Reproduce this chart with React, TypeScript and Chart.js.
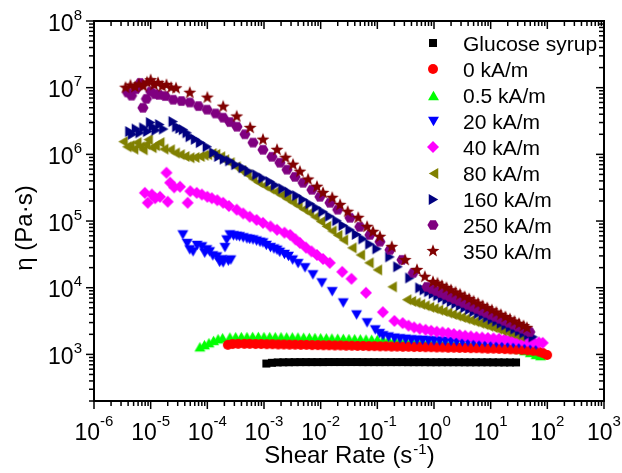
import React, { useEffect, useRef } from 'react';
import { Chart, registerables } from 'chart.js';

Chart.register(...registerables);

type Pt = [number, number];

// Shear rate (1/s) vs. viscosity (Pa·s)
const glucoseSyrup: Pt[] = [
  [1.1e-3, 730], [1.38e-3, 748], [1.74e-3, 758], [2.19e-3, 762], [2.75e-3, 764], [3.47e-3, 765],
  [4.37e-3, 766], [5.5e-3, 766], [6.92e-3, 767], [8.71e-3, 767], [1.1e-2, 767], [1.38e-2, 768],
  [1.74e-2, 768], [2.19e-2, 768], [2.75e-2, 768], [3.47e-2, 768], [4.37e-2, 768], [5.5e-2, 767],
  [6.92e-2, 767], [8.71e-2, 767], [0.11, 767], [0.138, 766], [0.174, 766], [0.219, 766],
  [0.275, 766], [0.347, 765], [0.437, 765], [0.55, 765], [0.692, 765], [0.871, 764], [1.1, 764],
  [1.38, 764], [1.74, 763], [2.19, 763], [2.75, 763], [3.47, 762], [4.37, 762], [5.5, 762],
  [6.92, 761], [8.71, 761], [11, 760], [13.8, 760], [17.4, 759], [21.9, 759], [28, 758],
];

const field0: Pt[] = [
  [2.3e-4, 1390], [2.8e-4, 1430], [3.5e-4, 1440], [4.5e-4, 1440], [5.6e-4, 1440], [7.1e-4, 1430],
  [8.9e-4, 1430], [1.12e-3, 1420], [1.41e-3, 1420], [1.78e-3, 1410], [2.24e-3, 1410], [2.82e-3, 1400],
  [3.55e-3, 1400], [4.47e-3, 1390], [5.62e-3, 1390], [7.08e-3, 1380], [8.91e-3, 1380], [1.12e-2, 1370],
  [1.41e-2, 1370], [1.78e-2, 1360], [2.24e-2, 1360], [2.82e-2, 1350], [3.55e-2, 1350], [4.47e-2, 1340],
  [5.62e-2, 1340], [7.08e-2, 1330], [8.91e-2, 1330], [0.112, 1320], [0.141, 1320], [0.178, 1310],
  [0.224, 1310], [0.282, 1300], [0.355, 1300], [0.447, 1290], [0.562, 1290], [0.708, 1280],
  [0.891, 1280], [1.12, 1270], [1.41, 1270], [1.78, 1260], [2.24, 1260], [2.82, 1250], [3.55, 1250],
  [4.47, 1240], [5.62, 1240], [7.08, 1230], [8.91, 1220], [11.2, 1220], [14.1, 1210], [17.8, 1200],
  [22.4, 1190], [28.2, 1180], [35.5, 1170], [44.7, 1150], [56.2, 1130], [70.8, 1100], [83, 1050],
  [99, 980],
];

const field05: Pt[] = [
  [7.4e-5, 1300], [8.9e-5, 1400], [1.07e-4, 1500], [1.29e-4, 1620], [1.55e-4, 1720], [1.86e-4, 1780],
  [2.5e-4, 1820], [3.16e-4, 1840], [3.98e-4, 1850], [5.01e-4, 1850], [6.31e-4, 1860], [7.94e-4, 1860],
  [1e-3, 1850], [1.26e-3, 1850], [1.58e-3, 1840], [2e-3, 1840], [2.51e-3, 1830], [3.16e-3, 1830],
  [3.98e-3, 1820], [5.01e-3, 1810], [6.31e-3, 1800], [7.94e-3, 1790], [1e-2, 1780], [1.26e-2, 1770],
  [1.58e-2, 1760], [2e-2, 1750], [2.51e-2, 1740], [3.16e-2, 1730], [3.98e-2, 1720], [5.01e-2, 1710],
  [6.31e-2, 1700], [7.94e-2, 1690], [0.1, 1680], [0.126, 1670], [0.158, 1660], [0.2, 1650],
  [0.251, 1640], [0.316, 1630], [0.398, 1620], [0.501, 1600], [0.631, 1590], [0.794, 1580],
  [1, 1560], [1.26, 1550], [1.58, 1530], [2, 1520], [2.51, 1500], [3.16, 1480], [3.98, 1460],
  [5.01, 1440], [6.31, 1420], [7.94, 1400], [10, 1380], [12.6, 1350], [15.8, 1320], [20, 1290],
  [25.1, 1250], [31.6, 1200], [39.8, 1140], [50.1, 1070], [63.1, 1000], [76, 960],
];

const field20: Pt[] = [
  [3.7e-5, 6.2e4], [4.4e-5, 4.6e4], [4.9e-5, 3.7e4], [5.6e-5, 3.45e4], [6.6e-5, 4.3e4], [8.0e-5, 4.1e4],
  [9.0e-5, 3.3e4], [9.8e-5, 3.7e4], [1.1e-4, 3.45e4], [1.25e-4, 3.0e4], [1.47e-4, 2.9e4], [1.65e-4, 2.4e4],
  [1.8e-4, 2.62e4], [1.9e-4, 2.36e4], [2.05e-4, 4.0e4], [2.2e-4, 5.2e4], [2.35e-4, 2.5e4], [2.5e-4, 6.2e4],
  [2.6e-4, 2.6e4], [2.9e-4, 6.0e4], [3.3e-4, 5.9e4], [3.7e-4, 5.8e4], [4.3e-4, 5.6e4], [5.0e-4, 5.4e4],
  [5.6e-4, 5.3e4], [6.4e-4, 5.2e4], [7.4e-4, 5.0e4], [8.5e-4, 4.8e4], [9.6e-4, 4.7e4], [1.1e-3, 4.3e4],
  [1.3e-3, 4.0e4], [1.5e-3, 3.8e4], [1.7e-3, 3.65e4], [1.9e-3, 3.4e4], [2.3e-3, 3.15e4], [2.7e-3, 2.95e4],
  [3.2e-3, 2.6e4], [4.0e-3, 2.3e4], [5.3e-3, 1.99e4], [7.3e-3, 1.56e4], [1.05e-2, 1.18e4], [1.6e-2, 8.7e3],
  [2.5e-2, 5.9e3], [4.3e-2, 3.9e3], [6.6e-2, 2.97e3], [9.2e-2, 2.33e3], [0.11, 2.05e3], [0.126, 1.9e3],
  [0.158, 1.82e3], [0.2, 1.75e3], [0.251, 1.71e3], [0.316, 1.68e3], [0.398, 1.65e3], [0.501, 1.63e3],
  [0.631, 1.62e3], [0.794, 1.6e3], [1, 1.59e3], [1.26, 1.58e3], [1.58, 1.57e3], [2, 1.56e3],
  [2.51, 1.55e3], [3.16, 1.54e3], [3.98, 1.53e3], [5.01, 1.52e3], [6.31, 1.51e3], [7.94, 1.5e3],
  [10, 1.49e3], [12.6, 1.48e3], [15.8, 1.47e3], [20, 1.46e3], [25.1, 1.45e3], [31.6, 1.44e3],
  [39.8, 1.42e3], [50.1, 1.4e3], [63.1, 1.37e3],
];

const field40: Pt[] = [
  [7.9e-6, 2.65e5], [8.9e-6, 1.88e5], [1.05e-5, 2.5e5], [1.2e-5, 2.2e5], [1.46e-5, 2.31e5], [1.9e-5, 5.3e5],
  [2.0e-5, 1.95e5], [2.2e-5, 3.76e5], [2.6e-5, 3.2e5], [3.3e-5, 3.27e5], [4.5e-5, 1.88e5], [5.0e-5, 2.8e5],
  [6.5e-5, 2.65e5], [8.0e-5, 2.5e5], [1.0e-4, 2.31e5], [1.2e-4, 2.2e5], [1.5e-4, 2.05e5], [1.9e-4, 1.88e5],
  [2.4e-4, 1.68e5], [3.3e-4, 1.48e5], [4.3e-4, 1.3e5], [5.6e-4, 1.16e5], [7.4e-4, 1.04e5], [9.6e-4, 9.4e4],
  [1.3e-3, 8.3e4], [1.7e-3, 7.4e4], [2.3e-3, 6.7e4], [2.9e-3, 6.2e4], [3.6e-3, 5.3e4], [4.3e-3, 4.7e4],
  [5.5e-3, 4.0e4], [6.9e-3, 3.5e4], [8.6e-3, 3.1e4], [1.1e-2, 2.7e4], [1.45e-2, 2.36e4], [2.4e-2, 1.73e4],
  [3.5e-2, 1.36e4], [6.3e-2, 8.4e3], [0.125, 4.3e3], [0.2, 3.18e3], [0.28, 2.95e3], [0.355, 2.7e3],
  [0.447, 2.54e3], [0.56, 2.43e3], [0.71, 2.34e3], [0.89, 2.26e3], [1.12, 2.19e3], [1.41, 2.14e3],
  [1.78, 2.09e3], [2.24, 2.02e3], [2.82, 1.95e3], [3.55, 1.9e3], [4.47, 1.86e3], [5.62, 1.82e3],
  [7.08, 1.79e3], [8.91, 1.76e3], [11.2, 1.74e3], [14.1, 1.72e3], [17.8, 1.7e3], [22.4, 1.68e3],
  [28.2, 1.66e3], [35.5, 1.62e3], [44.7, 1.58e3], [56.2, 1.55e3], [70.8, 1.51e3], [83, 1.49e3],
];

const field80: Pt[] = [
  [3.25e-6, 1.55e6], [3.8e-6, 1.3e6], [4.3e-6, 1.35e6], [5.0e-6, 1.2e6], [5.7e-6, 1.5e6], [6.5e-6, 1.3e6],
  [7.3e-6, 1.17e6], [8.2e-6, 1.4e6], [9.0e-6, 1.66e6], [1.05e-5, 1.26e6], [1.2e-5, 1.35e6], [1.45e-5, 1.5e6],
  [1.7e-5, 1.2e6], [2.2e-5, 1.17e6], [2.7e-5, 1.05e6], [3.3e-5, 9.9e5], [4.0e-5, 9.3e5], [4.9e-5, 8.9e5],
  [6.0e-5, 9.0e5], [7.4e-5, 9.3e5], [8.7e-5, 9.7e5], [1.0e-4, 9.9e5], [1.2e-4, 1.03e6], [1.4e-4, 1.0e6],
  [1.7e-4, 9.2e5], [2.0e-4, 8.3e5], [2.5e-4, 7.5e5], [3.2e-4, 6.5e5], [4.0e-4, 5.7e5], [5.0e-4, 5.0e5],
  [6.3e-4, 4.3e5], [7.9e-4, 3.8e5], [1e-3, 3.4e5], [1.26e-3, 3.05e5], [1.58e-3, 2.75e5], [2e-3, 2.45e5],
  [2.51e-3, 2.16e5], [3.16e-3, 1.92e5], [3.98e-3, 1.7e5], [5.01e-3, 1.5e5], [6.31e-3, 1.33e5],
  [7.94e-3, 1.15e5], [1e-2, 9.8e4], [1.26e-2, 8.3e4], [1.58e-2, 7.1e4], [2e-2, 6.1e4], [2.51e-2, 5.2e4],
  [3.55e-2, 3.96e4], [5.0e-2, 3.1e4], [7.1e-2, 2.36e4], [0.1, 1.85e4], [0.182, 1.03e4], [0.33, 6.6e3],
  [0.398, 6.25e3], [0.479, 5.94e3], [0.575, 5.65e3], [0.692, 5.37e3], [0.832, 5.1e3], [1.0, 4.86e3],
  [1.2, 4.62e3], [1.445, 4.4e3], [1.74, 4.18e3], [2.09, 3.97e3], [2.51, 3.78e3], [3.02, 3.59e3],
  [3.63, 3.41e3], [4.37, 3.25e3], [5.25, 3.09e3], [6.31, 2.94e3], [7.59, 2.79e3], [9.12, 2.65e3],
  [11, 2.52e3], [13.2, 2.4e3], [15.8, 2.28e3], [19.1, 2.17e3], [22.9, 2.07e3], [27.5, 1.96e3],
  [33.1, 1.87e3],
];

const field160: Pt[] = [
  [4.3e-6, 2.2e6], [4.8e-6, 2.0e6], [5.6e-6, 2.4e6], [6.5e-6, 2.1e6], [7.6e-6, 2.5e6], [8.9e-6, 2.2e6],
  [1.0e-5, 3.0e6], [1.1e-5, 2.6e6], [1.25e-5, 2.3e6], [1.45e-5, 2.8e6], [1.7e-5, 2.4e6], [2.5e-5, 3.1e6],
  [2.9e-5, 2.6e6], [3.3e-5, 2.45e6], [3.8e-5, 2.34e6], [4.4e-5, 2.1e6], [5.0e-5, 1.84e6], [6.2e-5, 1.68e6],
  [7.6e-5, 1.5e6], [1.0e-4, 1.3e6], [1.3e-4, 1.06e6], [1.6e-4, 9.3e5], [2.0e-4, 8.5e5], [2.5e-4, 8.0e5],
  [3.2e-4, 7.0e5], [4.3e-4, 6.3e5], [5.4e-4, 5.6e5], [7.5e-4, 4.95e5], [9.6e-4, 4.4e5], [1.28e-3, 3.9e5],
  [1.6e-3, 3.45e5], [2.16e-3, 3.05e5], [2.8e-3, 2.7e5], [3.8e-3, 2.4e5], [4.9e-3, 2.1e5], [6.5e-3, 1.82e5],
  [8.5e-3, 1.58e5], [1.1e-2, 1.38e5], [1.45e-2, 1.18e5], [1.94e-2, 1.01e5], [2.5e-2, 8.6e4], [3.3e-2, 7.4e4],
  [4.3e-2, 6.3e4], [5.6e-2, 5.4e4], [7.4e-2, 4.5e4], [9.9e-2, 3.83e4], [0.167, 2.9e4], [0.231, 2.06e4],
  [0.377, 1.4e4], [0.566, 9.95e3], [0.676, 9.3e3], [0.813, 8.7e3], [0.977, 8.14e3], [1.175, 7.6e3],
  [1.413, 7.1e3], [1.7, 6.64e3], [2.04, 6.2e3], [2.45, 5.8e3], [2.95, 5.42e3], [3.55, 5.06e3],
  [4.27, 4.73e3], [5.13, 4.42e3], [6.17, 4.13e3], [7.41, 3.86e3], [8.91, 3.6e3], [10.7, 3.37e3],
  [12.9, 3.15e3], [15.5, 2.94e3], [18.6, 2.75e3], [22.4, 2.57e3], [26.9, 2.4e3], [32.4, 2.24e3],
  [38.9, 2.09e3], [46.8, 1.96e3], [56.2, 1.83e3],
];

const field250: Pt[] = [
  [3.9e-6, 8.5e6], [4.6e-6, 7.6e6], [5.5e-6, 9.5e6], [6.5e-6, 1.18e7], [7.3e-6, 5.0e6], [8.4e-6, 6.8e6],
  [1.0e-5, 8.8e6], [1.2e-5, 8.0e6], [1.4e-5, 7.8e6], [1.8e-5, 7.5e6], [2.5e-5, 6.6e6], [3.5e-5, 6.3e6],
  [4.9e-5, 6.0e6], [7.0e-5, 5.3e6], [9.9e-5, 4.68e6], [1.4e-4, 4.1e6], [1.9e-4, 3.55e6], [2.5e-4, 3.05e6],
  [3.33e-4, 2.6e6], [4.6e-4, 2.0e6], [6.4e-4, 1.5e6], [9.6e-4, 1.17e6], [1.38e-3, 9.2e5], [1.91e-3, 7.5e5],
  [2.55e-3, 5.9e5], [3.52e-3, 4.6e5], [4.9e-3, 3.75e5], [7.0e-3, 2.94e5], [9.7e-3, 2.31e5], [1.46e-2, 1.88e5],
  [2.0e-2, 1.48e5], [3.3e-2, 1.12e5], [4.9e-2, 8.2e4], [7.4e-2, 6.2e4], [0.111, 4.9e4], [0.167, 3.7e4],
  [0.272, 2.62e4], [0.43, 1.67e4], [0.75, 1.03e4], [0.912, 9.6e3], [1.096, 8.95e3], [1.318, 8.36e3],
  [1.585, 7.8e3], [1.905, 7.3e3], [2.29, 6.8e3], [2.75, 6.36e3], [3.31, 5.93e3], [3.98, 5.54e3],
  [4.79, 5.17e3], [5.75, 4.83e3], [6.92, 4.51e3], [8.32, 4.21e3], [10, 3.93e3], [12, 3.67e3],
  [14.5, 3.43e3], [17.4, 3.2e3], [20.9, 2.99e3], [25.1, 2.79e3], [30.2, 2.6e3], [36.3, 2.43e3],
  [43.7, 2.27e3], [49, 2.17e3],
];

const field350: Pt[] = [
  [3.6e-6, 1.0e7], [4.4e-6, 1.08e7], [5.3e-6, 1.02e7], [6.2e-6, 1.12e7], [7.4e-6, 1.05e7], [8.6e-6, 1.2e7],
  [1.0e-5, 1.3e7], [1.15e-5, 1.1e7], [1.35e-5, 1.18e7], [1.6e-5, 1.05e7], [1.9e-5, 1.1e7], [2.3e-5, 1.0e7],
  [2.8e-5, 9.8e6], [4.9e-5, 8.4e6], [1.0e-4, 7.1e6], [1.9e-4, 5.2e6], [3.3e-4, 3.7e6], [5.7e-4, 2.5e6],
  [9.6e-4, 1.66e6], [1.7e-3, 1.17e6], [2.4e-3, 8.9e5], [3.25e-3, 7.0e5], [4.3e-3, 5.5e5], [6.0e-3, 4.2e5],
  [8.6e-3, 3.27e5], [1.1e-2, 2.65e5], [1.6e-2, 2.23e5], [2.2e-2, 1.75e5], [3.0e-2, 1.38e5], [4.6e-2, 1.12e5],
  [6.6e-2, 8.2e4], [8.4e-2, 6.9e4], [0.111, 5.8e4], [0.18, 4.1e4], [0.31, 2.6e4], [0.5, 1.85e4],
  [0.69, 1.46e4], [0.96, 1.22e4], [1.15, 1.16e4], [1.38, 1.07e4], [1.66, 9.95e3], [2.0, 9.2e3],
  [2.4, 8.5e3], [2.88, 7.9e3], [3.47, 7.3e3], [4.17, 6.76e3], [5.0, 6.25e3], [6.0, 5.8e3],
  [7.2, 5.35e3], [8.7, 4.96e3], [10.5, 4.6e3], [12.6, 4.25e3], [15.1, 3.93e3], [18.2, 3.64e3],
  [21.9, 3.37e3], [26.3, 3.12e3], [31.6, 2.88e3], [38, 2.67e3], [43.6, 2.5e3],
];

const seriesLabels = [
  'Glucose syrup', '0 kA/m', '0.5 kA/m', '20 kA/m', '40 kA/m',
  '80 kA/m', '160 kA/m', '250 kA/m', '350 kA/m',
];
const seriesData: Pt[][] = [
  glucoseSyrup, field0, field05, field20, field40, field80, field160, field250, field350,
];

const xTickExponents = ['-6', '-5', '-4', '-3', '-2', '-1', '0', '1', '2', '3'];
const yTickExponents = ['3', '4', '5', '6', '7', '8'];
const xTitleParts = ['Shear Rate (s', '-1', ')'];
const yTitle = 'η (Pa·s)';

type Shape = 'square' | 'circle' | 'triUp' | 'triDown' | 'diamond' | 'triLeft' | 'triRight' | 'hexagon' | 'star';

const seriesStyle: { color: string; shape: Shape; size: number; layer: number }[] = [
  { color: '#000000', shape: 'square', size: 4, layer: 9 },
  { color: '#FF0000', shape: 'circle', size: 5, layer: 7 },
  { color: '#00FF00', shape: 'triUp', size: 6.3, layer: 8 },
  { color: '#0000FF', shape: 'triDown', size: 6.3, layer: 6 },
  { color: '#FF00FF', shape: 'diamond', size: 6, layer: 5 },
  { color: '#808000', shape: 'triLeft', size: 6.3, layer: 4 },
  { color: '#000080', shape: 'triRight', size: 6.3, layer: 3 },
  { color: '#800080', shape: 'hexagon', size: 5.6, layer: 2 },
  { color: '#800000', shape: 'star', size: 6.8, layer: 1 },
];

const FONT = '"Liberation Sans", Arial, Helvetica, sans-serif';

function polygon(ctx: CanvasRenderingContext2D, cx: number, cy: number, r: number, n: number, startDeg: number) {
  for (let i = 0; i < n; i++) {
    const a = ((startDeg + (360 / n) * i) * Math.PI) / 180;
    const px = cx + r * Math.cos(a);
    const py = cy + r * Math.sin(a);
    if (i === 0) ctx.moveTo(px, py);
    else ctx.lineTo(px, py);
  }
  ctx.closePath();
}

function makeMarker(shape: Shape, color: string, r: number): HTMLCanvasElement {
  const c = document.createElement('canvas');
  const side = Math.ceil(r * 2) + 2;
  c.width = side;
  c.height = side;
  const ctx = c.getContext('2d')!;
  const cx = side / 2;
  const cy = side / 2;
  ctx.fillStyle = color;
  ctx.beginPath();
  switch (shape) {
    case 'square':
      ctx.rect(cx - r, cy - r, 2 * r, 2 * r);
      break;
    case 'circle':
      ctx.arc(cx, cy, r, 0, Math.PI * 2);
      break;
    case 'triUp':
      polygon(ctx, cx, cy + r * 0.25, r, 3, -90);
      break;
    case 'triDown':
      polygon(ctx, cx, cy - r * 0.25, r, 3, 90);
      break;
    case 'triLeft':
      polygon(ctx, cx + r * 0.25, cy, r, 3, 180);
      break;
    case 'triRight':
      polygon(ctx, cx - r * 0.25, cy, r, 3, 0);
      break;
    case 'diamond':
      polygon(ctx, cx, cy, r, 4, -90);
      break;
    case 'hexagon':
      polygon(ctx, cx, cy, r, 6, 0);
      break;
    case 'star': {
      for (let i = 0; i < 10; i++) {
        const rad = i % 2 === 0 ? r : r * 0.42;
        const a = ((-90 + 36 * i) * Math.PI) / 180;
        const px = cx + rad * Math.cos(a);
        const py = cy + rad * Math.sin(a);
        if (i === 0) ctx.moveTo(px, py);
        else ctx.lineTo(px, py);
      }
      ctx.closePath();
      break;
    }
  }
  ctx.fill();
  return c;
}

export default function App() {
  const canvasRef = useRef<HTMLCanvasElement | null>(null);

  useEffect(() => {
    const canvas = canvasRef.current;
    if (!canvas) return;

    const markers = seriesStyle.map((s) => makeMarker(s.shape, s.color, s.size));

    const axesPlugin = {
      id: 'originAxes',
      afterDraw(chart: any) {
        const { ctx, chartArea: a, scales } = chart;
        const xs = scales.x;
        const ys = scales.y;
        ctx.save();
        ctx.strokeStyle = '#000';
        ctx.fillStyle = '#000';

        const line = (x1: number, y1: number, x2: number, y2: number) => {
          ctx.beginPath();
          ctx.moveTo(x1, y1);
          ctx.lineTo(x2, y2);
          ctx.stroke();
        };

        const MAJOR = 8;
        const MINOR = 5;
        ctx.lineWidth = 1.5;

        // x ticks: outward at bottom, inward at top
        for (let e = -6; e <= 3; e++) {
          const px = xs.getPixelForValue(Math.pow(10, e));
          line(px, a.bottom, px, a.bottom + MAJOR);
          line(px, a.top, px, a.top + MAJOR);
          if (e < 3) {
            for (let k = 2; k <= 9; k++) {
              const pm = xs.getPixelForValue(k * Math.pow(10, e));
              line(pm, a.bottom, pm, a.bottom + MINOR);
              line(pm, a.top, pm, a.top + MINOR);
            }
          }
        }
        // y ticks: outward at left, inward at right
        for (let e = 2; e <= 8; e++) {
          if (e >= 3) {
            const py = ys.getPixelForValue(Math.pow(10, e));
            line(a.left, py, a.left - MAJOR, py);
            line(a.right, py, a.right - MAJOR, py);
          }
          if (e < 8) {
            for (let k = 2; k <= 9; k++) {
              const pm = ys.getPixelForValue(k * Math.pow(10, e));
              line(a.left, pm, a.left - MINOR, pm);
              line(a.right, pm, a.right - MINOR, pm);
            }
          }
        }

        // frame
        ctx.lineWidth = 2;
        ctx.strokeRect(a.left, a.top, a.right - a.left, a.bottom - a.top);

        // power-of-ten labels
        const BASE = 23;
        const SUP = 15;
        const drawPower = (exp: string, x: number, baseY: number, align: 'center' | 'right', rise: number) => {
          ctx.font = `${BASE}px ${FONT}`;
          const wb = ctx.measureText('10').width;
          ctx.font = `${SUP}px ${FONT}`;
          const we = ctx.measureText(exp).width;
          const total = wb + we;
          const left = align === 'center' ? x - total / 2 : x - total;
          ctx.textAlign = 'left';
          ctx.textBaseline = 'alphabetic';
          ctx.font = `${BASE}px ${FONT}`;
          ctx.fillText('10', left, baseY);
          ctx.font = `${SUP}px ${FONT}`;
          ctx.fillText(exp, left + wb, baseY - rise);
        };

        xTickExponents.forEach((exp) => {
          const px = xs.getPixelForValue(Math.pow(10, Number(exp)));
          drawPower(exp, px, a.bottom + 38.5, 'center', 13.5);
        });
        yTickExponents.forEach((exp) => {
          const py = ys.getPixelForValue(Math.pow(10, Number(exp)));
          drawPower(exp, a.left - 12, py + 9.5, 'right', 11);
        });

        // x axis title with superscript
        const TITLE = 24;
        ctx.font = `${TITLE}px ${FONT}`;
        const w1 = ctx.measureText(xTitleParts[0]).width;
        const w3 = ctx.measureText(xTitleParts[2]).width;
        ctx.font = `${SUP}px ${FONT}`;
        const w2 = ctx.measureText(xTitleParts[1]).width;
        const cxTitle = (a.left + a.right) / 2;
        let tx = cxTitle - (w1 + w2 + w3) / 2;
        const tBase = a.bottom + 62;
        ctx.font = `${TITLE}px ${FONT}`;
        ctx.fillText(xTitleParts[0], tx, tBase);
        tx += w1;
        ctx.font = `${SUP}px ${FONT}`;
        ctx.fillText(xTitleParts[1], tx + 1, tBase - 9);
        tx += w2 + 1;
        ctx.font = `${TITLE}px ${FONT}`;
        ctx.fillText(xTitleParts[2], tx, tBase);

        // y axis title
        ctx.save();
        ctx.translate(32, 228);
        ctx.rotate(-Math.PI / 2);
        ctx.textAlign = 'center';
        ctx.font = `${TITLE}px ${FONT}`;
        ctx.fillText(yTitle, 0, 0);
        ctx.restore();

        // legend inside the plot
        const legX = a.right - 171;
        const legTextX = a.right - 141;
        const legTop = a.top + 22;
        ctx.font = `21px ${FONT}`;
        ctx.textAlign = 'left';
        seriesLabels.forEach((label, i) => {
          const ry = legTop + i * 26;
          const m = markers[i];
          ctx.drawImage(m, Math.round(legX - m.width / 2), Math.round(ry - m.height / 2));
          ctx.fillText(label, legTextX, ry + 7.5);
        });

        ctx.restore();
      },
    };

    const chart = new Chart(canvas, {
      type: 'scatter',
      data: {
        datasets: seriesData.map((pts, i) => ({
          label: seriesLabels[i],
          data: pts.map(([x, y]) => ({ x, y })),
          pointStyle: markers[i] as any,
          pointRadius: 5,
          pointHoverRadius: 5,
          pointBorderWidth: 0,
          showLine: false,
          order: seriesStyle[i].layer,
        })),
      },
      options: {
        responsive: false,
        animation: false,
        events: [],
        devicePixelRatio: 1,
        layout: { padding: { left: 94, right: 18, top: 21, bottom: 72 } },
        plugins: { legend: { display: false }, tooltip: { enabled: false } },
        scales: {
          x: { type: 'logarithmic', min: 1e-6, max: 1e3, display: false },
          y: { type: 'logarithmic', min: 200, max: 1e8, display: false },
        },
      },
      plugins: [axesPlugin],
    });

    return () => chart.destroy();
  }, []);

  return (
    <div style={{ position: 'absolute', left: 0, top: 0, width: 622, height: 473, background: '#fff' }}>
      <canvas ref={canvasRef} width={622} height={473} style={{ display: 'block' }} />
    </div>
  );
}
